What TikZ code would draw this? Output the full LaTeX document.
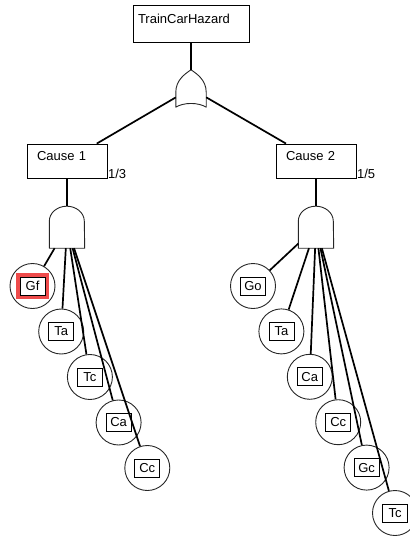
\documentclass[tikz,border=0pt]{standalone}
\usepackage{fontspec}
\setmainfont{Liberation Sans}
\usetikzlibrary{positioning}

\definecolor{selred}{HTML}{EE4B4B}

% gate outlines, drawn over an empty node of the gate's size
\newcommand{\andshape}[1]{%
  \draw[gate] (#1.south west) -- ++(0pt,27pt)
    arc[start angle=180, end angle=0, x radius=17.5pt, y radius=15pt]
    -- (#1.south east) -- cycle;}
\newcommand{\orshape}[1]{%
  \draw[gate] (#1.south west) -- ++(0pt,15pt)
    .. controls +(0pt,12pt) and +(-6pt,-4pt) .. (#1.north)
    .. controls +(6pt,-4pt) and +(0pt,12pt) .. ([yshift=15pt]#1.south east)
    -- (#1.south east)
    .. controls +(-8pt,5pt) and +(8pt,5pt) .. (#1.south west) -- cycle;}

\begin{document}
\begin{tikzpicture}[
    x=1pt, y=1pt, on grid,
    font=\fontsize{13}{15}\selectfont,
    topbox/.style={rectangle, draw, line width=0.8pt, text width=106pt, align=left,
        inner xsep=5pt, inner ysep=0pt, text height=18.5pt, text depth=18.5pt},
    causebox/.style={rectangle, draw, line width=0.8pt, text width=60pt, align=left,
        inner xsep=10pt, inner ysep=0pt, text height=16.5pt, text depth=17.5pt},
    andbox/.style={rectangle, minimum width=35pt, minimum height=42pt, inner sep=0pt},
    orbox/.style={rectangle, minimum width=30pt, minimum height=37pt, inner sep=0pt},
    gate/.style={draw=black!85, line width=0.9pt, line join=round},
    leaf/.style={circle, draw=black!85, line width=0.9pt, minimum size=45pt, inner sep=0pt},
    tag/.style={rectangle, draw, line width=0.8pt, minimum width=25pt, minimum height=18pt, inner sep=2pt},
    picked/.style={preaction={draw=selred, line width=8pt}, fill=white},
    ratio/.style={anchor=base west, inner sep=0.5pt},
    wire/.style={line width=1.7pt}
]
\useasboundingbox (0,0) rectangle (410,-536);

\node[topbox] (hazard) at (191,-23.5) {TrainCarHazard};
\node[orbox, below=65pt of hazard] (or) {};
\node[causebox, below left=72.5pt and 124pt of or, label={[ratio]south east:1/3}] (cause1) {Cause 1};
\node[causebox, below right=72.5pt and 125pt of or, label={[ratio]south east:1/5}] (cause2) {Cause 2};
\node[andbox, below=66pt of cause1] (and1) {};
\node[andbox, below=66pt of cause2] (and2) {};

% events under cause 1
\node[leaf, below left=59pt and 34.5pt of and1, label={[tag, picked]center:Gf}] (gf1) {};
\node[leaf, below right=45.5pt and 28.7pt of gf1, label={[tag]center:Ta}] (ta1) {};
\node[leaf, below right=45.5pt and 28.7pt of ta1, label={[tag]center:Tc}] (tc1) {};
\node[leaf, below right=45.5pt and 28.7pt of tc1, label={[tag]center:Ca}] (ca1) {};
\node[leaf, below right=45.5pt and 28.7pt of ca1, label={[tag]center:Cc}] (cc1) {};

% events under cause 2
\node[leaf, below left=59pt and 63pt of and2, label={[tag]center:Go}] (go2) {};
\node[leaf, below right=45.4pt and 28.4pt of go2, label={[tag]center:Ta}] (ta2) {};
\node[leaf, below right=45.4pt and 28.4pt of ta2, label={[tag]center:Ca}] (ca2) {};
\node[leaf, below right=45.4pt and 28.4pt of ca2, label={[tag]center:Cc}] (cc2) {};
\node[leaf, below right=45.4pt and 28.4pt of cc2, label={[tag]center:Gc}] (gc2) {};
\node[leaf, below right=45.4pt and 28.4pt of gc2, label={[tag]center:Tc}] (tc2) {};

\orshape{or}
\andshape{and1}
\andshape{and2}

\draw[wire] (hazard) -- (or);
\draw[wire] (or) -- (cause1);
\draw[wire] (or) -- (cause2);
\draw[wire] (cause1) -- (and1);
\draw[wire] (cause2) -- (and2);

\draw[wire] (and1) -- (gf1);
\draw[wire] (and1) -- (ta1);
\draw[wire] (and1) -- (tc1);
\draw[wire] (and1) -- (ca1);
\draw[wire] (and1) -- (cc1);

\draw[wire] (and2) -- (go2);
\draw[wire] (and2) -- (ta2);
\draw[wire] (and2) -- (ca2);
\draw[wire] (and2) -- (cc2);
\draw[wire] (and2) -- (gc2);
\draw[wire] (and2) -- (tc2);
\end{tikzpicture}
\end{document}
